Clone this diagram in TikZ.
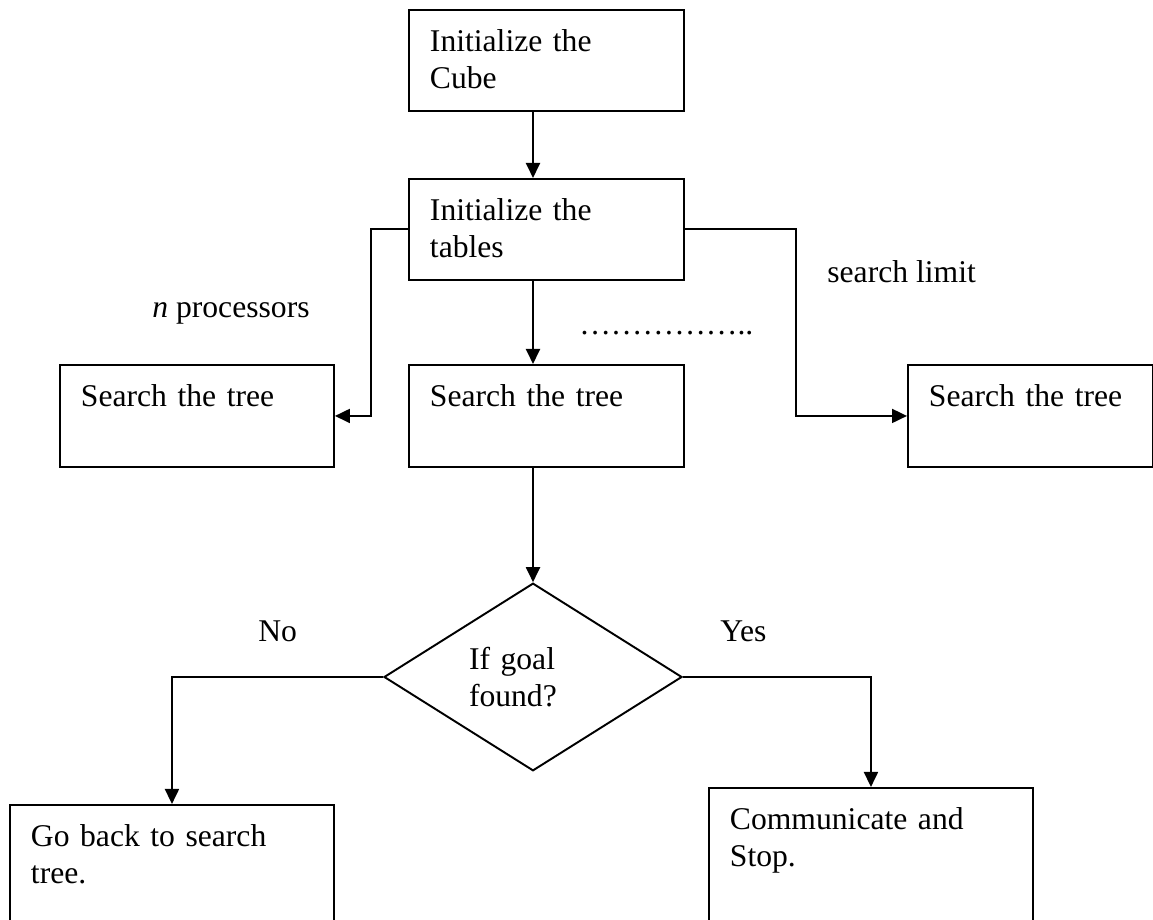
\documentclass[tikz,border=0pt]{standalone}
\usepackage{fontspec}
\setmainfont{Liberation Serif}
\usepackage{tikz}
\usetikzlibrary{
    arrows.meta,
    shapes.geometric
}

\tikzset{
  box/.style={draw, line width=1.1pt, anchor=north west, align=left,
    inner xsep=0.42cm, inner ysep=0.4cm, text height=0.44cm,
    text width=4.66cm, text depth=0.78cm},
  decision/.style={diamond, draw, line width=1.1pt, inner sep=0pt,
    minimum width=5.96cm, minimum height=3.7cm, text width=2.56cm, align=left},
  lbl/.style={inner sep=0pt, anchor=base west},
  arr/.style={-{Triangle[length=0.3cm,width=0.28cm]}, line width=1.1pt}
}

\begin{document}
\begin{tikzpicture}[font=\fontsize{18}{21}\selectfont]
  \useasboundingbox (0,0) rectangle (23.06,18.4);
  \clip (0,0) rectangle (23.06,18.4);

  % Set up steps
  \node[box] (cube) at (8.16,18.22) {Initialize the\\Cube};
  \node[box] (tables) at (8.16,14.84) {Initialize the\\tables};

  % One search per processor
  \node[box, text width=4.64cm, text depth=0.8cm] (sleft) at (1.18,11.12) {Search the tree};
  \node[box, text depth=0.8cm] (smid) at (8.16,11.12) {Search the tree};
  \node[box, text width=4.06cm, text depth=0.8cm] (sright) at (18.14,11.12) {Search the tree};

  % Decision and outcomes
  \node[decision] (goal) at (10.66,4.86) {If goal\\found?};
  \node[box, text width=5.64cm, text depth=1.6cm] (goback) at (0.18,2.32) {Go back to search\\tree.};
  \node[box, text width=5.64cm, text depth=1.6cm] (comm) at (14.16,2.66) {Communicate and\\Stop.};

  % Labels
  \node[lbl] (nproc) at (3.04,12.04) {\textit{n} processors};
  \node[lbl] (limit) at (16.54,12.74) {search limit};
  \node[lbl] (dots) at (11.58,11.7) {……………..};
  \node[lbl] (no) at (5.16,5.56) {No};
  \node[lbl] (yes) at (14.4,5.56) {Yes};

  % Connectors
  \draw[arr] (cube.south -| goal.north) -- (tables.north -| goal.north);
  \draw[arr] (tables.west) -- ++(-0.74,0) |- (sleft.east);
  \draw[arr] (tables.east) -- ++(2.22,0) |- (sright.west);
  \draw[arr] (tables.south -| goal.north) -- (smid.north -| goal.north);
  \draw[arr] (smid.south -| goal.north) -- (goal.north);
  \draw[arr] (goal.west) -| (goback.north);
  \draw[arr] (goal.east) -| (comm.north);

\end{tikzpicture}
\end{document}
